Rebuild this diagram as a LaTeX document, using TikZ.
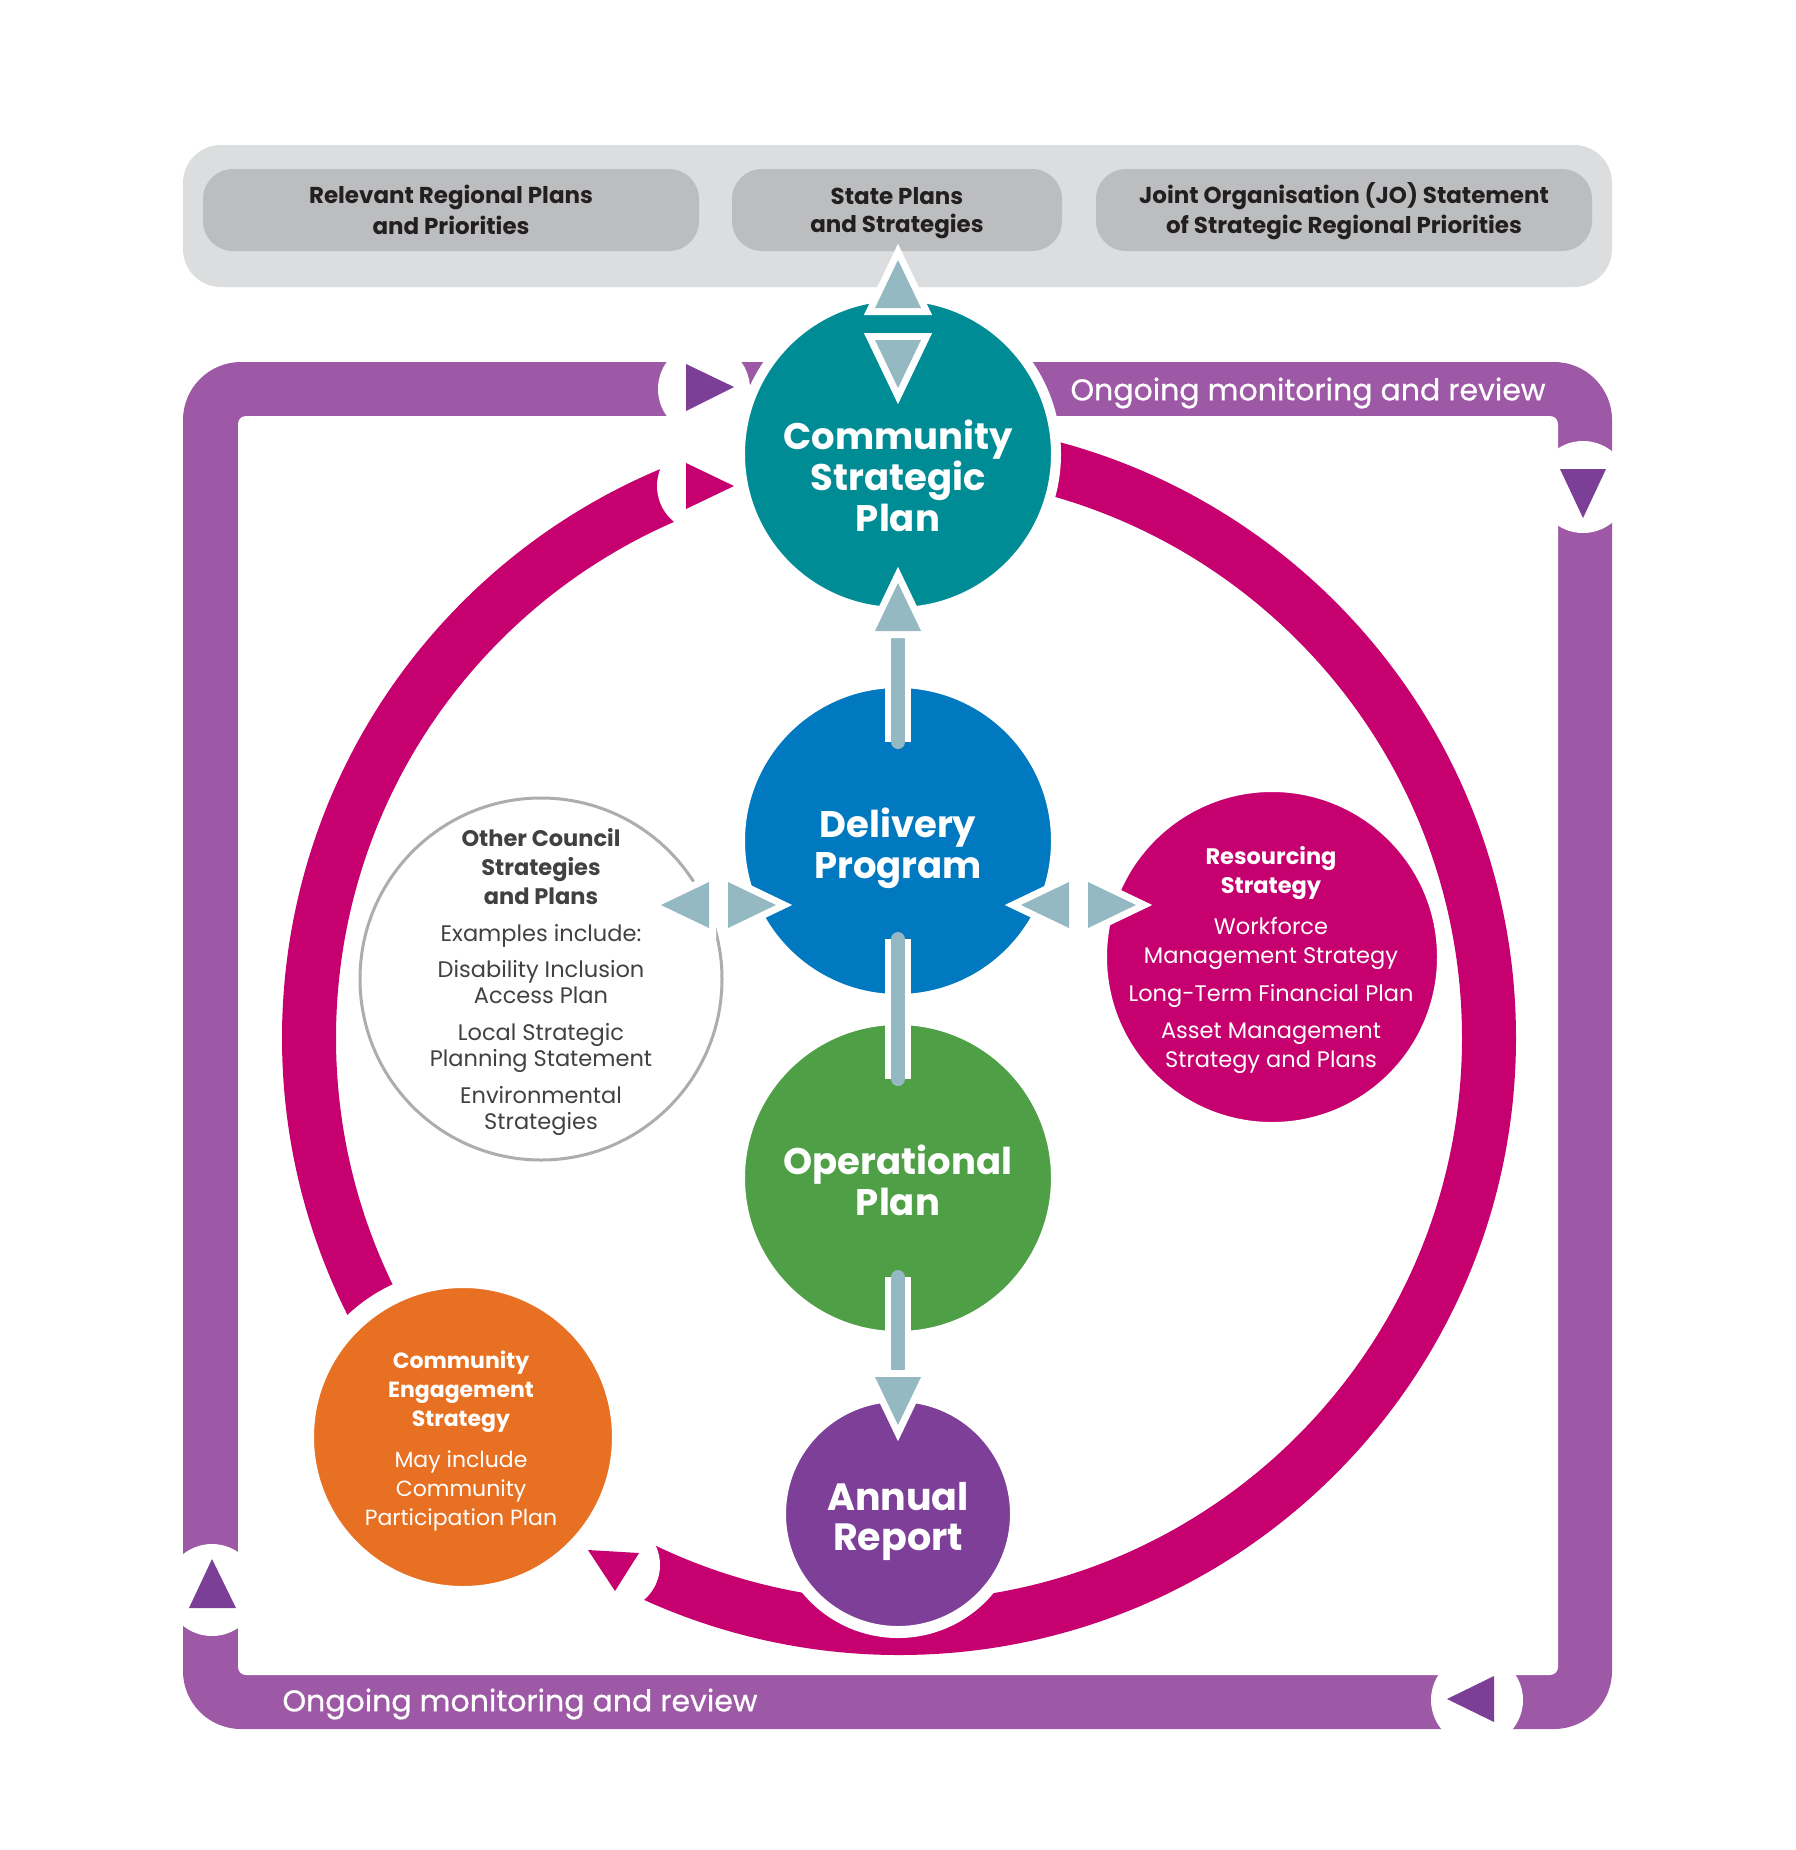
\documentclass[tikz,border=0pt]{standalone}
\usepackage{fontspec}
\setmainfont{Poppins}
\usetikzlibrary{calc}
\definecolor{boxgray}{HTML}{DCDDDE}
\definecolor{pillgray}{HTML}{BCBDBF}
\definecolor{txtdark}{HTML}{231F20}
\definecolor{ocsgray}{HTML}{ADADAD}
\definecolor{ocstext}{HTML}{414042}
\definecolor{loopviolet}{HTML}{9D59A6}
\definecolor{tripurple}{HTML}{7B3F98}
\definecolor{ringmag}{HTML}{C6006E}
\definecolor{csteal}{HTML}{008C95}
\definecolor{dpblue}{HTML}{0079C1}
\definecolor{opgreen}{HTML}{4E9F45}
\definecolor{arpurple}{HTML}{7D3F98}
\definecolor{cesorange}{HTML}{E87022}
\definecolor{connblue}{HTML}{95B9C2}
\newcommand\conntri[3]{%
  \fill[connblue, preaction={draw=white, line width=14pt, line join=miter}, shift={#1}, rotate=#2] (-16,-23) -- (-16,23) -- (32,0) -- cycle;}
\newcommand\pst{\rule[-5pt]{0pt}{28pt}}
\begin{document}
\begin{tikzpicture}[x=1pt,y=-1pt,
  pill/.style={fill=pillgray, rounded corners=30pt, minimum height=82pt, inner sep=0pt, text=txtdark,
    font=\bfseries\fontsize{23}{28}\selectfont, align=center},
  bubble/.style={circle, inner sep=0pt, outer sep=0pt, fill=#1, draw=white},
  bigtxt/.style={text=white, align=center, font=\bfseries\fontsize{37}{41}\selectfont},
  shaft/.style={draw=connblue, line width=14pt, line cap=round, preaction={draw=white, line width=26pt}},
  looptxt/.style={text=white, font=\fontsize{30}{34}\selectfont\addfontfeature{FakeBold=0.6}},
  gap/.style={fill=white}
]
\useasboundingbox (0,0) rectangle (1796,1850);
\fill[white] (0,0) rectangle (1796,1850);

% top grey band
\fill[boxgray, rounded corners=38pt] (183,145) rectangle (1612,287);
\node[pill, minimum width=496pt] (rrp) at (451,210) {\pst Relevant Regional Plans\\and Priorities\pst};
\node[pill, minimum width=330pt] (sps) at (897,210) {\pst State Plans\\and Strategies\pst};
\node[pill, minimum width=496pt] (jos) at (1344,210) {\pst Joint Organisation (JO) Statement\\of Strategic Regional Priorities\pst};

% ongoing monitoring loop
\fill[loopviolet, rounded corners=58pt] (183,362) rectangle (1612,1729);
\fill[white, rounded corners=8pt] (238,416) rectangle (1558,1675);
\fill[gap] (704,389) circle (46);
\fill[gap] (1583,487) circle (46);
\fill[gap] (1477,1700) circle (46);
\fill[gap] (212,1590) circle (46);
\fill[tripurple] (686,364) -- (686,411) -- (734,387) -- cycle;
\fill[tripurple] (1560,469) -- (1606,469) -- (1583,518) -- cycle;
\fill[tripurple] (1494,1676) -- (1494,1722) -- (1447,1699) -- cycle;
\fill[tripurple] (189,1608) -- (236,1608) -- (212,1559) -- cycle;
\node[looptxt] (omr1) at (1308,393) {Ongoing monitoring and review};
\node[looptxt] (omr2) at (520,1704) {Ongoing monitoring and review};

% magenta cycle
\draw[ringmag, line width=54pt] (899,1038) ++(-90:590) arc[start angle=-90, end angle=119, radius=590];
\draw[ringmag, line width=54pt] (899,1038) ++(135:590) arc[start angle=135, end angle=251, radius=590];
\fill[gap] (703,486) circle (46);
\fill[gap] (614,1565) circle (46);

% circles
\node[bubble=csteal, minimum size=316pt, line width=10pt] (csp) at (898,454) {};
\node[bubble=dpblue, minimum size=316pt, line width=10pt] (dp) at (898,841) {};
\node[bubble=opgreen, minimum size=316pt, line width=10pt] (op) at (898,1178) {};
\node[bubble=arpurple, minimum size=236pt, line width=12pt] (ar) at (898,1514) {};
\node[bubble=ringmag, minimum size=340pt, line width=10pt] (res) at (1272,957) {};
\node[bubble=cesorange, minimum size=317pt, line width=19pt] (ces) at (463,1437) {};
\node[circle, inner sep=0pt, outer sep=0pt, fill=white, draw=ocsgray, line width=3pt, minimum size=362pt] (ocs) at (541,979) {};

\fill[ringmag] (686,463) -- (686,509) -- (734,486) -- cycle;
\fill[ringmag] (588,1550) -- (639,1553) -- (615,1591) -- cycle;

% texts in circles
\node[bigtxt] (csptxt) at (898,476) {Community\\Strategic\\Plan};
\node[bigtxt] (dptxt) at (898,848) {Delivery\\Program};
\node[bigtxt] (optxt) at (898,1180) {Operational\\Plan};
\node[bigtxt, font=\bfseries\fontsize{38}{40}\selectfont] (artxt) at (898,1521) {Annual\\Report};
\node[text=ocstext, align=center, font=\fontsize{22.5}{26}\selectfont] (ocstxt) at (541,982)
  {\textbf{Other Council}\\[3pt]\textbf{Strategies}\\[3pt]\textbf{and Plans}\\[11pt]Examples include:\\[10pt]Disability Inclusion\\Access Plan\\[11pt]Local Strategic\\Planning Statement\\[11pt]Environmental\\Strategies};
\node[text=white, align=center, font=\fontsize{22.5}{29}\selectfont] (restxt) at (1271,960)
  {\textbf{Resourcing}\\\textbf{Strategy}\\[12pt]Workforce\\Management Strategy\\[9pt]Long-Term Financial Plan\\[8pt]Asset Management\\Strategy and Plans};
\node[text=white, align=center, font=\fontsize{22}{29}\selectfont] (cestxt) at (461,1441)
  {\textbf{Community}\\\textbf{Engagement}\\\textbf{Strategy}\\[12pt]May include\\Community\\Participation Plan};

% connectors
\conntri{($(csp.north)+(0,-4)$)}{90}{}
\conntri{($(csp.north)+(0,60)$)}{-90}{}
\draw[shaft] ($(dp.north)+(0,-43)$) coordinate (s1a) -- ($(dp.north)+(0,59)$) coordinate (s1b);
\conntri{($(csp.south)+(0,3)$)}{90}{}
\draw[shaft] ($(dp.south)+(0,-60)$) coordinate (s2a) -- ($(op.north)+(0,59)$) coordinate (s2b);
\draw[shaft] ($(op.south)+(0,-59)$) coordinate (s3a) -- ($(ar.north)+(0,-28)$) coordinate (s3b);
\conntri{($(ar.north)+(0,-3)$)}{-90}{}
\conntri{($(dp.center)+(-205,64)$)}{180}{}
\conntri{($(dp.center)+(-154,64)$)}{0}{}
\conntri{($(dp.center)+(155,64)$)}{180}{}
\conntri{($(dp.center)+(206,64)$)}{0}{}
\end{tikzpicture}
\end{document}
